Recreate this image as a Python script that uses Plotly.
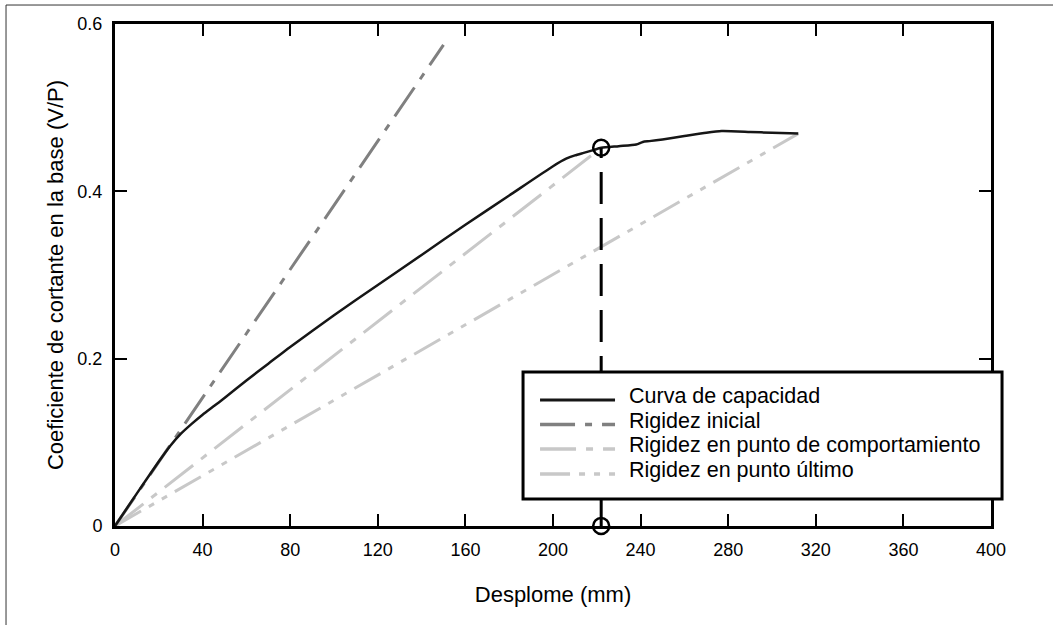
import plotly.graph_objects as go

# ---- data ----
curve_x = [0, 10, 20, 25, 30, 35, 40, 45, 50, 60, 70, 80, 100, 120, 140, 160, 180, 200,
           206, 210, 214, 218, 222, 230, 238, 241, 244, 250, 260, 270, 277, 290, 300, 312]
curve_y = [0, 0.039, 0.077, 0.095, 0.110, 0.122, 0.133, 0.143, 0.153, 0.174, 0.194,
           0.214, 0.252, 0.288, 0.324, 0.360, 0.395, 0.430, 0.439, 0.443, 0.446, 0.449,
           0.452, 0.454, 0.456, 0.459, 0.460, 0.462, 0.466, 0.470, 0.472, 0.471, 0.470, 0.469]

initial_x = [0, 150]
initial_y = [0, 0.575]

perf_x = [0, 222]
perf_y = [0, 0.452]

ult_x = [0, 312]
ult_y = [0, 0.469]

perf_point_x = [222, 222]
perf_point_y = [0, 0.452]

x_ticks = [0, 40, 80, 120, 160, 200, 240, 280, 320, 360, 400]
y_ticks = [0, 0.2, 0.4, 0.6]
y_tick_text = ["0", "0.2", "0.4", "0.6"]

legend_labels = ["Curva de capacidad", "Rigidez inicial",
                 "Rigidez en punto de comportamiento", "Rigidez en punto último"]

# ---- styles ----
FONT = "Liberation Sans, Arial, sans-serif"
styles = [
    dict(color="#161616", width=2.5, dash="solid"),
    dict(color="#808080", width=3, dash="35px,10px,7px,10px"),
    dict(color="#c8c8c8", width=3, dash="36px,10px,7px,10px"),
    dict(color="#c8c8c8", width=3, dash="30px,9px,6px,9px,6px,9px"),
]

fig = go.Figure()
fig.add_trace(go.Scatter(x=ult_x, y=ult_y, mode="lines", line=styles[3], showlegend=False))
fig.add_trace(go.Scatter(x=perf_x, y=perf_y, mode="lines", line=styles[2], showlegend=False))
fig.add_trace(go.Scatter(x=initial_x, y=initial_y, mode="lines", line=styles[1], showlegend=False))
fig.add_trace(go.Scatter(x=curve_x, y=curve_y, mode="lines", line=dict(styles[0], shape="spline", smoothing=0.6),
                         showlegend=False))
fig.add_trace(go.Scatter(
    x=perf_point_x, y=perf_point_y, mode="lines+markers",
    line=dict(color="black", width=3, dash="32px,14px"),
    marker=dict(symbol="circle-open", size=16, color="black", line=dict(width=2.5, color="black")),
    cliponaxis=False, showlegend=False))

axis_common = dict(
    showline=True, linecolor="black", linewidth=3, mirror="ticks",
    ticks="inside", ticklen=12, tickwidth=1.5, tickcolor="black",
    showgrid=False, zeroline=False, layer="below traces",
    tickfont=dict(family=FONT, size=18, color="black"),
)

fig.update_layout(
    width=1053, height=625,
    margin=dict(l=115, r=62, t=24, b=99),
    paper_bgcolor="white", plot_bgcolor="white",
    font=dict(family=FONT, color="black"),
    xaxis=dict(range=[0, 400], tickvals=x_ticks, ticklabelstandoff=5,
               title=dict(text="Desplome (mm)", font=dict(family=FONT, size=22), standoff=29),
               **axis_common),
    yaxis=dict(range=[0, 0.6], tickvals=y_ticks, ticktext=y_tick_text, ticklabelstandoff=6,
               title=dict(text="Coeficiente de cortante en la base (V/P)",
                          font=dict(family=FONT, size=22), standoff=8),
               **axis_common),
)

# outer frame
fig.add_shape(type="rect", xref="paper", yref="paper", x0=-0.1244, x1=1.09, y0=-0.22, y1=1.0378,
              line=dict(color="#333333", width=1), layer="below")

# legend box
fig.add_shape(type="rect", xref="paper", yref="paper", x0=0.4658, x1=1.0126, y0=0.0538, y1=0.3068,
              line=dict(color="black", width=3), fillcolor="white", layer="above")
row_y = [0.251, 0.2022, 0.1534, 0.1036]
for lbl, st, ry in zip(legend_labels, styles, row_y):
    fig.add_shape(type="line", xref="paper", yref="paper", x0=0.4852, x1=0.5708, y0=ry, y1=ry,
                  line=dict(color=st["color"], width=st["width"] + 0.5, dash=st["dash"]), layer="above")
    fig.add_annotation(xref="paper", yref="paper", x=0.5845, y=ry + 0.007, text=lbl,
                       showarrow=False, xanchor="left", yanchor="middle",
                       font=dict(family=FONT, size=21.5, color="black"))

fig.write_html("out.html", config={"displayModeBar": False},
               post_script="document.body.style.margin='0';document.body.style.overflow='hidden';")
